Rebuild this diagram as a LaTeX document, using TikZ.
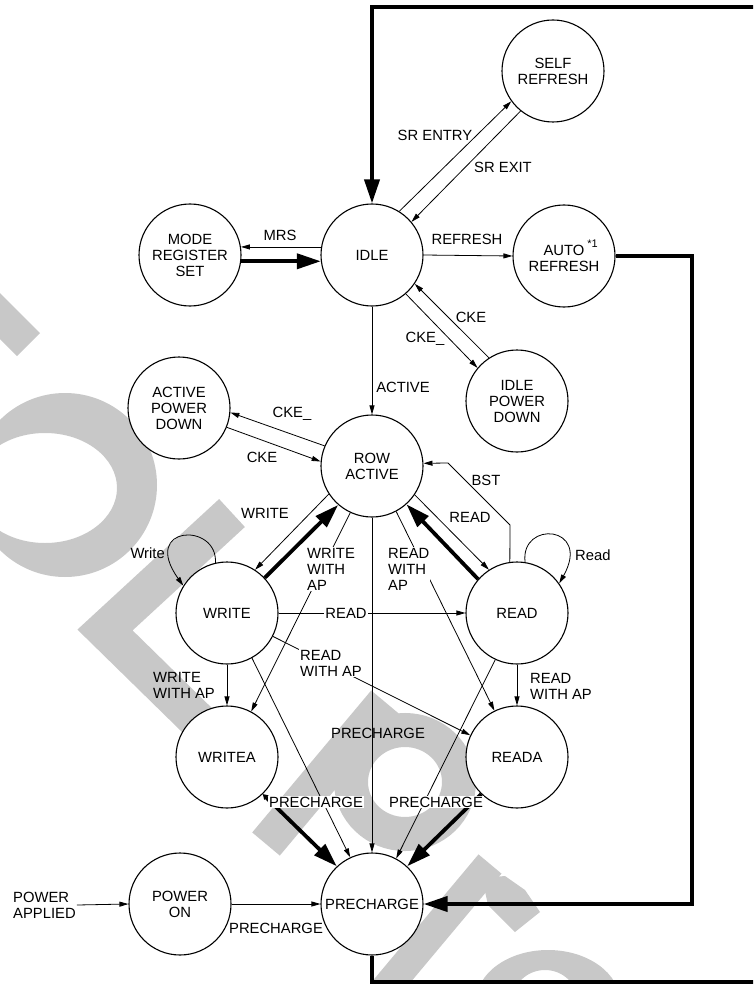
\documentclass[tikz,border=0pt]{standalone}
\usepackage{fontspec}
\setmainfont{Liberation Sans}
\usetikzlibrary{arrows.meta}
\newcommand{\lbl}{\fontsize{14.8}{16}\selectfont}
\definecolor{wmgray}{RGB}{200,200,200}
\begin{document}
\begin{tikzpicture}[x=1pt,y=-1pt,
  state/.style={circle,draw,fill=white,line width=1.1pt,minimum size=102pt,inner sep=0pt,align=center,font=\lbl},
  lab/.style={inner sep=1pt,font=\lbl},
  wl/.style={lab,fill=white},
  thin/.style={line width=0.8pt,-{Triangle[length=9pt,width=5pt]}},
  heavy/.style={line width=3.8pt,line join=miter,-{Triangle[length=24pt,width=15pt]}},
  wm/.style={draw=wmgray},
  wmf/.style={fill=wmgray},
]
\useasboundingbox (0,0) rectangle (753,984);
\clip (0,0) rectangle (753,984);

% watermark (light gray, behind the diagram)
\fill[wmf] (-5,288) -- (40,333) -- (17,356) -- (-5,334) -- cycle;
\fill[wmf,even odd rule] (65,485) ellipse [x radius=92pt,y radius=92pt]
  (45,488) ellipse [x radius=72pt,y radius=55pt];
\draw[wm,line width=38pt,line join=miter] (232,513) -- (105,630) -- (200,723);
\draw[wm,line width=36pt] (266,844) -- (385,702);
\draw[wm,line width=34pt] (405,782) ellipse [x radius=54pt,y radius=52pt];
\draw[wm,line width=30pt] (372,1005) -- (490,864);
\fill[wmf] (482,878) -- (505,876) -- (525,890) -- (540,912) -- (515,932) -- (488,905) -- cycle;
\fill[wmf,even odd rule] (548,1002) ellipse [x radius=72pt,y radius=52pt]
  (545,1000) ellipse [x radius=32pt,y radius=30pt];

% states
\node[state] (self) at (553,71) {SELF\\REFRESH};
\node[state] (idle) at (372,255) {IDLE};
\node[state] (mrs) at (190,255) {MODE\\REGISTER\\SET};
\node[state] (auto) at (564,256) {AUTO\rlap{\hspace{3pt}\raisebox{8pt}{\fontsize{11}{11}\selectfont *1}}\\REFRESH};
\node[state] (ipd) at (517,401) {IDLE\\POWER\\DOWN};
\node[state] (apd) at (179,408) {ACTIVE\\POWER\\DOWN};
\node[state] (row) at (372,466) {ROW\\ACTIVE};
\node[state] (write) at (227,613) {WRITE};
\node[state] (read) at (517,613) {READ};
\node[state] (writea) at (227,757) {WRITEA};
\node[state] (reada) at (517,757) {READA};
\node[state] (pre) at (372,904) {PRECHARGE};
\node[state] (pon) at (180,904) {POWER\\ON};
\node[lab,anchor=west,align=left] (pa) at (12,905) {POWER\\APPLIED};

% big loops
\draw[heavy] (pre.south) -- (372,982) -- (775,982) -- (775,7) -- (372,7) -- (idle.north);
\draw[heavy] (auto.east) -- (692,256) -- (692,904) -- (pre.east);

% idle area
\draw[thin] (idle.58) -- (self.216);
\draw[thin] (self.231) -- (idle.40);
\draw[thin] (idle.east) -- (auto.west);
\draw[thin] (idle.171) -- (mrs.9);
\draw[heavy] (mrs.-7) -- (idle.187);
\draw[thin] (idle.-49) -- (ipd.140);
\draw[thin] (ipd.123) -- (idle.-34);
\draw[thin] (idle.south) -- (row.north);

% row active area
\draw[thin] (row.157) -- (apd.-5);
\draw[thin] (apd.-22) -- (row.175);
\draw[thin] (row.213) -- (write.57);
\draw[heavy] (write.43) -- (row.229);
\draw[thin] (row.245) -- (writea.62);
\draw[thin] (row.-62) -- (reada.116);
\draw[thin] (row.-34) -- (read.123);
\draw[heavy] (read.139) -- (row.-48);
\draw[thin] (read.98) -- (510,525) -- (448,463) -- (row.3);
\draw[thin] (read.81) .. controls (520,520) and (592,525) .. (read.35);
\draw[thin] (write.103) .. controls (218,522) and (140,525) .. (write.148);

% write / read area
\draw[thin] (write.east) -- (read.west);
\draw[thin] (write.south) -- (writea.north);
\draw[thin] (read.south) -- (reada.north);
\draw[thin] (write.-27) -- (reada.155);

% to precharge
\draw[thin] (write.-61) -- (pre.115);
\draw[thin] (row.south) -- (pre.north);
\draw[thin] (read.245) -- (pre.62);
\draw[heavy,{Triangle[length=5pt,width=6pt]}-{Triangle[length=24pt,width=15pt]}] (writea.-46) -- (pre.133);
\draw[heavy] (reada.226) -- (pre.47);
\draw[thin] (pon.east) -- (pre.west);
\draw[thin] (pa.east) -- (pon.west);

% labels
\node[lab] (l1) at (435,135) {SR ENTRY};
\node[lab] (l2) at (503,167) {SR EXIT};
\node[lab] (l3) at (467,239) {REFRESH};
\node[lab] (l4) at (280,235) {MRS};
\node[lab] (l5) at (471,317) {CKE};
\node[lab] (l6) at (425,339) {CKE\_};
\node[lab] (l7) at (403,387) {ACTIVE};
\node[lab] (l8) at (292,414) {CKE\_};
\node[lab] (l9) at (262,457) {CKE};
\node[lab] (l10) at (265,513) {WRITE};
\node[lab] (l11) at (470,517) {READ};
\node[lab] (l12) at (486,480) {BST};
\node[lab,anchor=east] (l13) at (166,553) {Write};
\node[lab,anchor=west] (l14) at (574,555) {Read};
\node[wl,anchor=west,align=left] (l15) at (306,569) {WRITE\\WITH\\AP};
\node[wl,anchor=west,align=left] (l16) at (387,569) {READ\\WITH\\AP};
\node[wl] (l17) at (346,613) {READ};
\node[lab,anchor=west,align=left] (l18) at (152,685) {WRITE\\WITH AP};
\node[lab,anchor=west,align=left] (l19) at (529,686) {READ\\WITH AP};
\node[wl,anchor=west,align=left] (l20) at (299,663) {READ\\WITH AP};
\node[lab] (l21) at (378,733) {PRECHARGE};
\node[wl] (l22) at (316,802) {PRECHARGE};
\node[wl] (l23) at (436,802) {PRECHARGE};
\node[lab] (l24) at (276,928) {PRECHARGE};
\end{tikzpicture}
\end{document}
